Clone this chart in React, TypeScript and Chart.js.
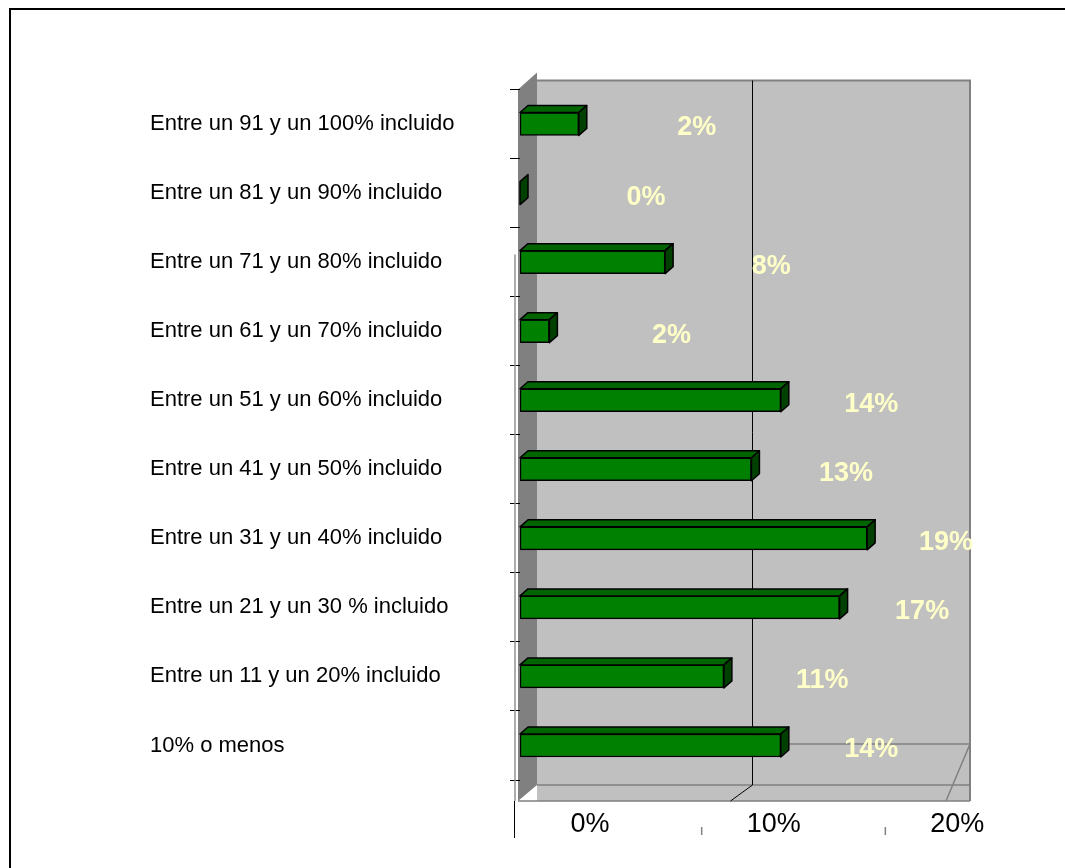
import React, { useEffect, useRef } from "react";
import { Chart, registerables } from "chart.js";

Chart.register(...registerables);

// ---- data (top to bottom as in the picture) ----
const categories = [
  "Entre un 91 y un 100% incluido",
  "Entre un 81 y un 90% incluido",
  "Entre un 71 y un 80% incluido",
  "Entre un 61 y un 70% incluido",
  "Entre un 51 y un 60% incluido",
  "Entre un 41 y un 50% incluido",
  "Entre un 31 y un 40% incluido",
  "Entre un 21 y un 30 % incluido",
  "Entre un 11 y un 20% incluido",
  "10% o menos",
];
const values = [3.2, 0, 7.9, 1.6, 14.2, 12.6, 18.9, 17.4, 11.1, 14.2];
const valueLabels = ["2%", "0%", "8%", "2%", "14%", "13%", "19%", "17%", "11%", "14%"];
const xTicks = [0, 10, 20];

// ---- styling constants ----
const FONT = '"Liberation Sans", Arial, Helvetica, sans-serif';
const WALL_DX = 17;
const FLOOR_DY = 16;
const BAR_DX = 8;
const BAR_DY = 7;
const LABEL_SHIFT = 126;
const LABEL_SLOPE = 0.864;

const decorPlugin = {
  id: "decor3d",
  beforeDraw(chart: any) {
    const { ctx, chartArea } = chart;
    const { left: L, right: R, top: T, bottom: B } = chartArea;
    const bl = L + WALL_DX;
    const bt = T - 9;
    const bb = B + 5;
    const fb = bb + FLOOR_DY;
    const lastTick = xTicks[xTicks.length - 1];
    const backX = (v: number) => bl + (v / lastTick) * (R - bl - 3);
    ctx.save();
    // back wall + floor
    ctx.fillStyle = "#C0C0C0";
    ctx.fillRect(bl, bt, R - bl, fb - bt);
    // side wall
    ctx.fillStyle = "#808080";
    ctx.beginPath();
    ctx.moveTo(L - 2, T);
    ctx.lineTo(bl, T - 17);
    ctx.lineTo(bl, bb);
    ctx.lineTo(L - 2, fb);
    ctx.closePath();
    ctx.fill();
    // wall outlines
    ctx.strokeStyle = "#808080";
    ctx.lineWidth = 2;
    ctx.beginPath();
    ctx.moveTo(bl, bt);
    ctx.lineTo(R, bt);
    ctx.lineTo(R, fb);
    ctx.stroke();
    ctx.lineWidth = 1.5;
    ctx.beginPath();
    ctx.moveTo(bl, bb);
    ctx.lineTo(R, bb);
    ctx.moveTo(L - 2, fb);
    ctx.lineTo(R, fb);
    ctx.stroke();
    // stray floor outline
    const g10 = backX(xTicks[1]);
    ctx.beginPath();
    ctx.moveTo(g10, B - 36);
    ctx.lineTo(R, B - 36);
    ctx.lineTo(R - 24, fb);
    ctx.stroke();
    // gridlines on back wall & floor
    ctx.strokeStyle = "#000";
    ctx.lineWidth = 1;
    xTicks.forEach((v) => {
      if (v <= 0 || v >= lastTick) return;
      const gx = Math.round(backX(v)) + 0.5;
      ctx.beginPath();
      ctx.moveTo(gx, bt);
      ctx.lineTo(gx, bb);
      ctx.lineTo(gx - 22, fb);
      ctx.stroke();
    });
    ctx.restore();
  },
  afterDatasetsDraw(chart: any) {
    const { ctx } = chart;
    const meta = chart.getDatasetMeta(0);
    ctx.save();
    meta.data.forEach((bar: any, i: number) => {
      const { x, y, base, height } = bar.getProps(["x", "y", "base", "height"], true);
      const top = y - height / 2;
      const bot = y + height / 2;
      ctx.lineWidth = 1.5;
      ctx.strokeStyle = "#000";
      ctx.lineJoin = "round";
      if (x > base) {
        ctx.beginPath();
        ctx.moveTo(base, top);
        ctx.lineTo(base + BAR_DX, top - BAR_DY);
        ctx.lineTo(x + BAR_DX, top - BAR_DY);
        ctx.lineTo(x, top);
        ctx.closePath();
        ctx.fillStyle = "#006400";
        ctx.fill();
        ctx.stroke();
      }
      ctx.beginPath();
      ctx.moveTo(x, top);
      ctx.lineTo(x + BAR_DX, top - BAR_DY);
      ctx.lineTo(x + BAR_DX, bot - BAR_DY);
      ctx.lineTo(x, bot);
      ctx.closePath();
      ctx.fillStyle = "#004000";
      ctx.fill();
      ctx.stroke();
      // value label
      ctx.font = `bold 27px ${FONT}`;
      ctx.fillStyle = "#FFFFC8";
      ctx.textAlign = "center";
      ctx.textBaseline = "middle";
      ctx.fillText(valueLabels[i], base + LABEL_SHIFT + LABEL_SLOPE * (x - base), y + 4);
    });
    ctx.restore();
  },
  afterDraw(chart: any) {
    const { ctx, chartArea } = chart;
    const { left: L, top: T, bottom: B } = chartArea;
    const xs = chart.scales.x;
    const fb = B + 5 + FLOOR_DY;
    ctx.save();
    ctx.strokeStyle = "#909090";
    ctx.lineWidth = 1.5;
    ctx.beginPath();
    ctx.moveTo(L - 5, T + 165);
    ctx.lineTo(L - 5, fb);
    ctx.stroke();
    ctx.strokeStyle = "#000";
    ctx.lineWidth = 1;
    ctx.beginPath();
    ctx.moveTo(L - 5.5, fb);
    ctx.lineTo(L - 5.5, B + 58);
    ctx.stroke();
    ctx.strokeStyle = "#808080";
    ctx.lineWidth = 1.5;
    xTicks.forEach((v) => {
      if (v <= 0) return;
      const px = xs.getPixelForValue(v) - 2;
      ctx.beginPath();
      ctx.moveTo(px, B + 47);
      ctx.lineTo(px, B + 55);
      ctx.stroke();
    });
    ctx.restore();
  },
};

export default function App() {
  const canvasRef = useRef<HTMLCanvasElement | null>(null);

  useEffect(() => {
    if (!canvasRef.current) return;
    const chart = new Chart(canvasRef.current, {
      type: "bar",
      data: {
        labels: categories,
        datasets: [
          {
            data: values,
            backgroundColor: "#008000",
            borderColor: "#000000",
            borderWidth: 1.5,
            borderSkipped: false,
            barThickness: 23,
          },
        ],
      },
      options: {
        indexAxis: "y",
        responsive: false,
        animation: false,
        devicePixelRatio: 1,
        layout: { padding: { left: 142, top: 81.5, right: 87, bottom: 0 } },
        plugins: {
          legend: { display: false },
          tooltip: { enabled: false },
        },
        scales: {
          x: {
            type: "linear",
            position: "bottom",
            min: 0,
            max: 24.5,
            afterBuildTicks: (s: any) => {
              s.ticks = xTicks.map((v) => ({ value: v }));
            },
            afterFit: (s: any) => {
              s.height = 80;
            },
            grid: { display: false, drawTicks: false },
            border: { display: false },
            ticks: {
              padding: 28,
              labelOffset: 70,
              color: "#000",
              maxRotation: 0,
              font: { family: FONT, size: 27 },
              callback: (v: any) => `${v}%`,
            },
          },
          y: {
            type: "category",
            position: "left",
            afterFit: (s: any) => {
              s.width = 370;
            },
            grid: {
              drawOnChartArea: false,
              drawTicks: true,
              tickLength: 10,
              color: "#000",
              offset: true,
            },
            border: { display: false },
            ticks: {
              crossAlign: "far",
              color: "#000",
              font: { family: FONT, size: 22 },
            },
          },
        },
      },
      plugins: [decorPlugin],
    } as any);
    return () => chart.destroy();
  }, []);

  return (
    <div style={{ position: "relative", width: 1049, height: 852, overflow: "hidden", background: "#fff" }}>
      <div
        style={{
          position: "fixed",
          left: 9,
          top: 8,
          width: 1200,
          height: 1000,
          border: "2px solid #000",
          boxSizing: "border-box",
          pointerEvents: "none",
        }}
      />
      <canvas
        ref={canvasRef}
        width={1049}
        height={852}
        style={{ position: "absolute", left: 0, top: 0, width: 1049, height: 852 }}
      />
    </div>
  );
}
